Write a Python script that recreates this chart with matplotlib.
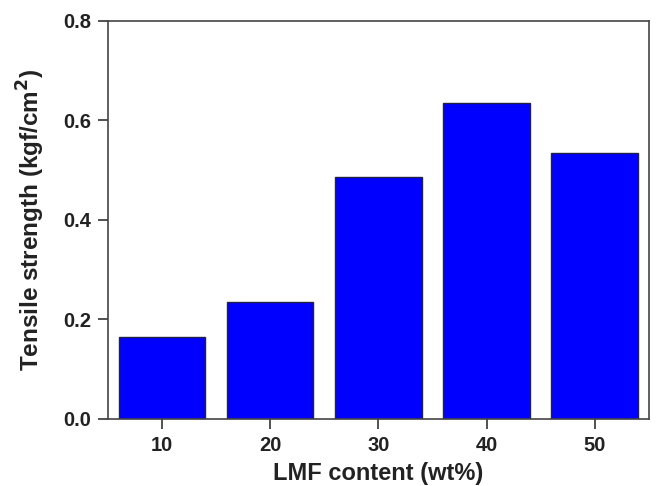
import matplotlib
matplotlib.use('Agg')
from matplotlib import pyplot as plt
import numpy as np

# data
lmf_content = [10, 20, 30, 40, 50]
tensile_strength = [0.165, 0.235, 0.486, 0.635, 0.535]
y_ticks = [0.0, 0.2, 0.4, 0.6, 0.8]

plt.rcParams['font.family'] = ['Liberation Sans', 'DejaVu Sans']
plt.rcParams['font.weight'] = 'bold'

fig = plt.figure(figsize=(6.58, 4.86), dpi=100)
ax = fig.add_axes([0.164, 0.138, 0.822, 0.819])

ax.bar(lmf_content, tensile_strength, width=8, color='#0000ff', edgecolor='#222244', linewidth=1)

ax.set_xlim(5, 55)
ax.set_ylim(0, 0.8)
ax.set_xticks(lmf_content)
ax.set_yticks(y_ticks)
ax.set_yticklabels(['%.1f' % v for v in y_ticks])
ax.tick_params(direction='out', length=7, width=1.2, labelsize=14.5, colors='#333333', labelcolor='#222222', pad=5)
for lab in ax.get_xticklabels() + ax.get_yticklabels():
    lab.set_fontweight('bold')
for sp in ax.spines.values():
    sp.set_linewidth(1.2)
    sp.set_color('#444444')

ax.set_xlabel('LMF content (wt%)', fontsize=17, fontweight='bold', labelpad=5, color='#222222')
ax.set_ylabel(r'Tensile strength (kgf/cm$^\mathbf{2}$)', fontsize=17.5, fontweight='bold', labelpad=12, color='#222222')

plt.savefig('out.png', dpi=100)
